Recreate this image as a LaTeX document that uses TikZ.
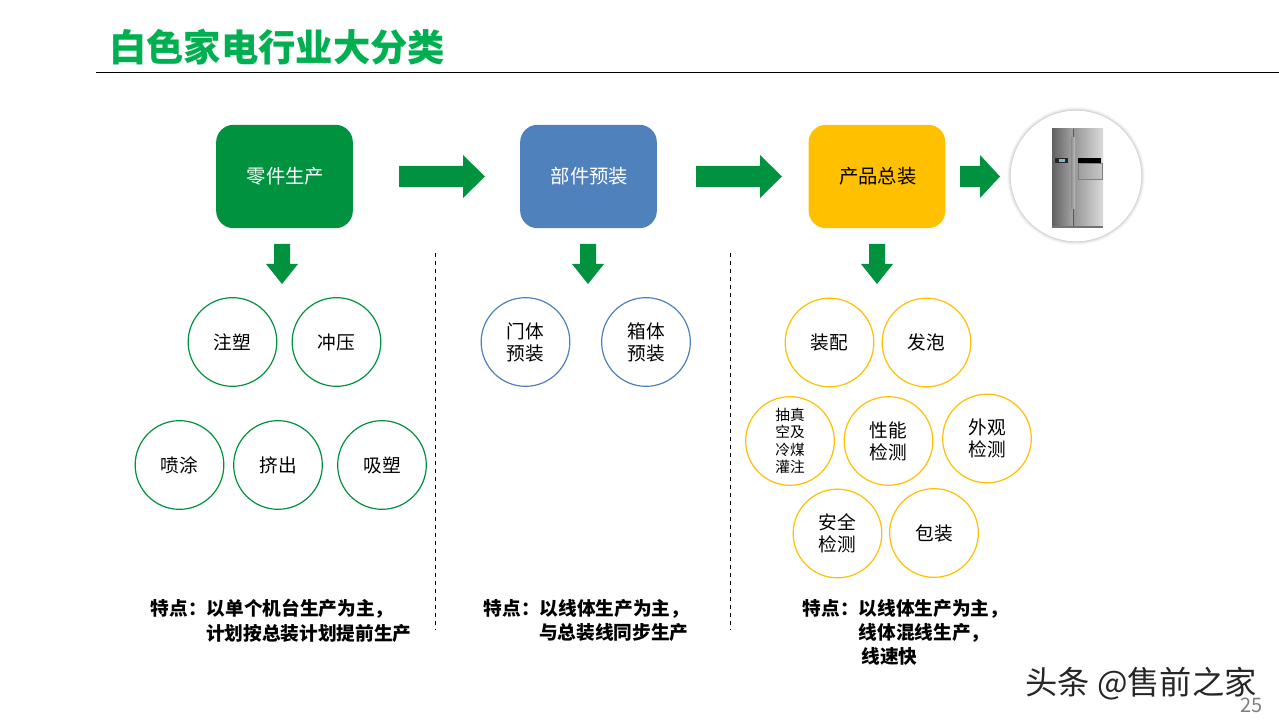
\documentclass[tikz,border=0pt]{standalone}
\usepackage{fontspec}
\setmainfont{Noto Sans CJK SC}
\definecolor{titlegreen}{HTML}{00B050}
\definecolor{arrowgreen}{HTML}{00923F}
\definecolor{stepblue}{HTML}{4F81BD}
\definecolor{stepyellow}{HTML}{FFC000}
\newcommand{\fs}[1]{\fontsize{#1}{#1}\selectfont}
\newcommand{\rarrow}[3]{\fill[arrowgreen] (#1,166)--(#2,166)--(#2,155)--(#3,176.5)--(#2,198)--(#2,187)--(#1,187)--cycle;}
\newcommand{\darrow}[1]{\fill[arrowgreen] (#1-8,244)--(#1+8,244)--(#1+8,264)--(#1+16,264)--(#1,284)--(#1-16,264)--(#1-8,264)--cycle;}
\tikzset{
  stepbox/.style={rounded corners=13pt,minimum width=102.5pt,minimum height=77.5pt,inner sep=0pt,text=#1,font=\fs{14.5}},
  bub/.style={circle,draw=#1,line width=0.9pt,minimum size=66.5pt,inner sep=0pt,align=center,text=black,font=\fs{14}},
  sep/.style={dashed,line width=0.7pt,black},
  note/.style={anchor=north west,align=left,inner sep=0pt,font=\fs{14}\bfseries,text=black}
}
\begin{document}
\begin{tikzpicture}[x=0.75pt,y=-0.75pt]
\useasboundingbox (0,0) rectangle (1279,720);
\fill[white] (0,0) rectangle (1279,720);
% title
\node[anchor=west,inner sep=0pt,text=titlegreen,font=\fs{28}\bfseries] (title) at (109,47.5) {白色家电行业大分类};
\coordinate (ruleL) at (96,72.5);
\coordinate (ruleR) at (1279,72.5);
\draw[black,line width=0.8pt] (ruleL) -- (ruleR);
% process boxes
\node[stepbox=white,fill=arrowgreen] (s1) at (284.5,176.5) {\hspace*{1.5pt}零件生产};
\node[stepbox=white,fill=stepblue] (s2) at (588.5,176.5) {\hspace*{1.5pt}部件预装};
\node[stepbox=black,fill=stepyellow] (s3) at (877,176.5) {\hspace*{1pt}产品总装};
% block arrows
\rarrow{399}{463}{485}
\rarrow{696}{760}{782}
\rarrow{960}{980}{1000}
\darrow{282}
\darrow{588}
\darrow{877}
% product circle with soft shadow
\foreach \r/\c in {69/F9F9F9,68/F0F0F0,67/E2E2E2,66/CFCFCF}{\definecolor{ringc}{HTML}{\c}\fill[ringc] (1076,176) circle[radius=\r*0.75pt];}
\node[circle,fill=white,minimum size=98pt,inner sep=0pt] (prod) at (1076,176) {};
% fridge
\shade[left color=black!62,right color=black!36] (1052,129) rectangle (1073,226);
\shade[left color=black!42,right color=black!14] (1073,129) rectangle (1103,226);
\fill[black!55] (1052,226) rectangle (1103,228);
\draw[black!65,line width=0.4pt] (1073,129) -- (1073,226);
\shade[left color=black!45,right color=black!25] (1071,138) rectangle (1075,209);
\fill[black!85] (1055,158) rectangle (1068,163.5);
\fill[black!30!cyan!60] (1059,159.5) rectangle (1065,162);
\fill[black] (1078,158) rectangle (1101,163.5);
\shade[draw=black!50,line width=0.4pt,left color=black!38,right color=black!22] (1078,163.5) rectangle (1102,179);
% circles
\node[bub=arrowgreen] (a1) at (232.5,342) {注塑};
\node[bub=arrowgreen] (a2) at (336.5,342) {冲压};
\node[bub=arrowgreen] (a3) at (179.5,465) {喷涂};
\node[bub=arrowgreen] (a4) at (278,465) {挤出};
\node[bub=arrowgreen] (a5) at (382,465) {吸塑};
\node[bub=stepblue] (b1) at (525.5,342) {门体\\[2.5pt]预装};
\node[bub=stepblue] (b2) at (646,342) {箱体\\[2.5pt]预装};
\node[bub=stepyellow] (c1) at (829.5,342.5) {装配};
\node[bub=stepyellow] (c2) at (926.5,342.5) {发泡};
\node[bub=stepyellow,font=\fs{11}] (c3) at (790,441) {抽真\\[2pt]空及\\[2pt]冷煤\\[2pt]灌注};
\node[bub=stepyellow] (c4) at (888.5,441) {性能\\[2.5pt]检测};
\node[bub=stepyellow] (c5) at (987,438.5) {外观\\[2.5pt]检测};
\node[bub=stepyellow] (c6) at (837.5,533.5) {安全\\[2.5pt]检测};
\node[bub=stepyellow] (c7) at (934,533) {包装};
% separators
\coordinate (d1a) at (435,253);
\coordinate (d1b) at (435,630);
\coordinate (d2a) at (730.5,253);
\coordinate (d2b) at (730.5,630);
\draw[sep] (d1a) -- (d1b);
\draw[sep] (d2a) -- (d2b);
% notes
\node[note] (n1) at (150.5,599) {特点：以单个机台生产为主，\\[3pt]\hspace*{41.5pt}计划按总装计划提前生产};
\node[note] (n2) at (483.5,599) {特点：以线体生产为主，\\[3pt]\hspace*{41.5pt}与总装线同步生产};
\node[note] (n3) at (802.5,599) {特点：以线体生产为主，\\[3pt]\hspace*{42pt}线体混线生产，\\[3pt]\hspace*{44pt}线速快};
% footer
\node[anchor=west,inner sep=0pt,text=black!85,font=\fs{24.2}] (wm) at (1025,684) {头条 @售前之家};
\node[anchor=east,inner sep=0pt,text=black!50,font=\fs{15}] (pg) at (1263,705) {25};
\end{tikzpicture}
\end{document}
